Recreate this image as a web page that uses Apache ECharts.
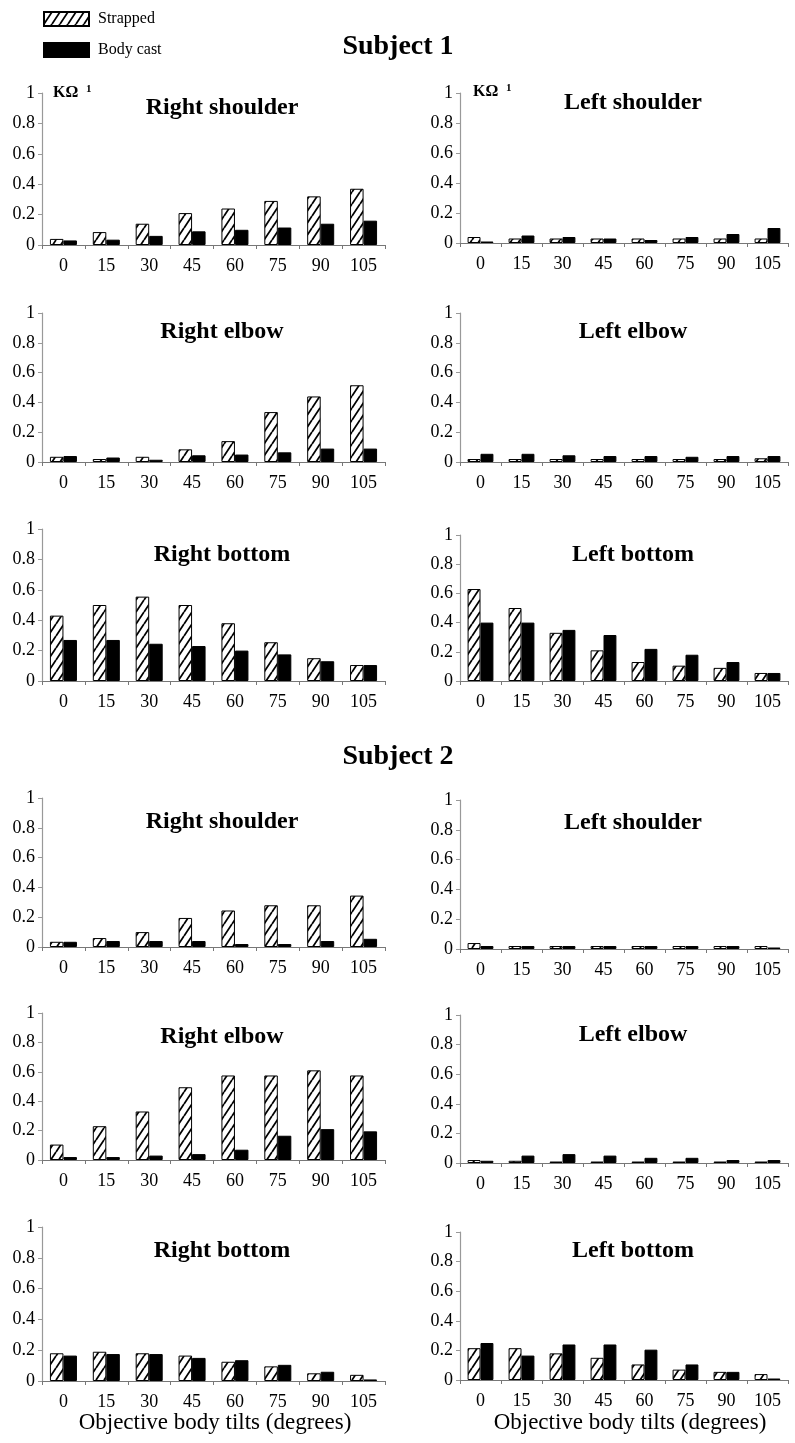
<!DOCTYPE html>
<html><head><meta charset="utf-8">
<script src="https://cdn.jsdelivr.net/npm/echarts@6/dist/echarts.min.js"></script>
<style>html,body{margin:0;padding:0;background:#fff}#c{width:795px;height:1443px}</style>
</head><body><div id="c"></div>
<script>
// ---------- data ----------
const categories = ['0', '15', '30', '45', '60', '75', '90', '105'];
const seriesNames = ['Strapped', 'Body cast'];
const yTickValues = [0, 0.2, 0.4, 0.6, 0.8, 1];

// Subject 1
const s1RightShoulderStrapped = [0.04, 0.085, 0.14, 0.21, 0.24, 0.29, 0.32, 0.37];
const s1RightShoulderCast     = [0.03, 0.035, 0.06, 0.09, 0.10, 0.115, 0.14, 0.16];
const s1LeftShoulderStrapped  = [0.04, 0.03, 0.03, 0.03, 0.03, 0.03, 0.03, 0.03];
const s1LeftShoulderCast      = [0.01, 0.05, 0.04, 0.03, 0.02, 0.04, 0.06, 0.10];
const s1RightElbowStrapped    = [0.035, 0.02, 0.035, 0.085, 0.14, 0.335, 0.44, 0.515];
const s1RightElbowCast        = [0.04, 0.03, 0.015, 0.045, 0.05, 0.065, 0.09, 0.09];
const s1LeftElbowStrapped     = [0.02, 0.02, 0.02, 0.02, 0.02, 0.02, 0.02, 0.025];
const s1LeftElbowCast         = [0.055, 0.055, 0.045, 0.04, 0.04, 0.035, 0.04, 0.04];
const s1RightBottomStrapped   = [0.43, 0.50, 0.555, 0.50, 0.38, 0.255, 0.15, 0.105];
const s1RightBottomCast       = [0.27, 0.27, 0.245, 0.23, 0.20, 0.175, 0.13, 0.105];
const s1LeftBottomStrapped    = [0.63, 0.50, 0.33, 0.21, 0.13, 0.105, 0.09, 0.055];
const s1LeftBottomCast        = [0.40, 0.40, 0.35, 0.315, 0.22, 0.18, 0.13, 0.055];
// Subject 2
const s2RightShoulderStrapped = [0.035, 0.06, 0.10, 0.195, 0.245, 0.28, 0.28, 0.345];
const s2RightShoulderCast     = [0.035, 0.04, 0.04, 0.04, 0.02, 0.02, 0.04, 0.055];
const s2LeftShoulderStrapped  = [0.04, 0.02, 0.02, 0.02, 0.02, 0.02, 0.02, 0.02];
const s2LeftShoulderCast      = [0.02, 0.02, 0.02, 0.02, 0.02, 0.02, 0.02, 0.01];
const s2RightElbowStrapped    = [0.105, 0.23, 0.33, 0.495, 0.575, 0.575, 0.61, 0.575];
const s2RightElbowCast        = [0.02, 0.02, 0.03, 0.04, 0.07, 0.165, 0.21, 0.195];
const s2LeftElbowStrapped     = [0.02, 0.015, 0.01, 0.01, 0.01, 0.01, 0.01, 0.01];
const s2LeftElbowCast         = [0.015, 0.05, 0.06, 0.05, 0.035, 0.035, 0.02, 0.02];
const s2RightBottomStrapped   = [0.18, 0.19, 0.18, 0.165, 0.125, 0.095, 0.05, 0.04];
const s2RightBottomCast       = [0.165, 0.175, 0.175, 0.15, 0.135, 0.105, 0.06, 0.01];
const s2LeftBottomStrapped    = [0.215, 0.215, 0.18, 0.15, 0.105, 0.07, 0.055, 0.04];
const s2LeftBottomCast        = [0.25, 0.165, 0.24, 0.24, 0.205, 0.105, 0.055, 0.01];

const panelTitles = ['Right shoulder', 'Left shoulder', 'Right elbow', 'Left elbow', 'Right bottom', 'Left bottom'];
const subjectTitles = ['Subject 1', 'Subject 2'];
const xAxisTitle = 'Objective body tilts (degrees)';
const unitMain = 'KΩ';
const unitSup = '1';

const panelData = [
  [s1RightShoulderStrapped, s1RightShoulderCast], [s1LeftShoulderStrapped, s1LeftShoulderCast],
  [s1RightElbowStrapped, s1RightElbowCast], [s1LeftElbowStrapped, s1LeftElbowCast],
  [s1RightBottomStrapped, s1RightBottomCast], [s1LeftBottomStrapped, s1LeftBottomCast],
  [s2RightShoulderStrapped, s2RightShoulderCast], [s2LeftShoulderStrapped, s2LeftShoulderCast],
  [s2RightElbowStrapped, s2RightElbowCast], [s2LeftElbowStrapped, s2LeftElbowCast],
  [s2RightBottomStrapped, s2RightBottomCast], [s2LeftBottomStrapped, s2LeftBottomCast]
];

// ---------- layout ----------
const cols = [{ left: 42, width: 343, titleX: 222 }, { left: 460, width: 328, titleX: 633 }];
// [top(value 1), bottom(value 0), titleCenterY] per panel
const rowsLayout = [
  [93, 245, 108], [93, 243, 103],
  [313, 462, 332], [313, 462, 332],
  [529, 681, 555], [535, 681, 555],
  [798, 947, 822], [800, 949, 823],
  [1013, 1160, 1037], [1015, 1163, 1035],
  [1227, 1381, 1251], [1232, 1380, 1251]
];

const FONT = 'Liberation Serif, Times New Roman, serif';

function hatch() {
  const w = 8, h = 12;
  const c = document.createElement('canvas');
  c.width = w; c.height = h;
  const g = c.getContext('2d');
  g.fillStyle = '#fff'; g.fillRect(0, 0, w, h);
  g.strokeStyle = '#000'; g.lineWidth = 1.8;
  g.beginPath();
  for (const o of [-w, 0, w]) { g.moveTo(o, h); g.lineTo(o + w, 0); }
  g.stroke();
  return c;
}
const hatchPattern = { image: hatch(), repeat: 'repeat' };

const grids = [], xAxes = [], yAxes = [], series = [], titles = [];
panelData.forEach((pd, i) => {
  const col = cols[i % 2];
  const [top, bottom, ty] = rowsLayout[i];
  grids.push({ left: col.left, width: col.width, top: top, height: bottom - top, outerBoundsMode: 'none' });
  xAxes.push({
    type: 'category', gridIndex: i, data: categories,
    axisLine: { lineStyle: { color: '#777', width: 1.2 } },
    axisTick: { show: true, length: 4, lineStyle: { color: '#777' } },
    axisLabel: { color: '#000', fontFamily: FONT, fontSize: 18, margin: 12, interval: 0 },
    splitLine: { show: false }
  });
  yAxes.push({
    type: 'value', gridIndex: i, min: 0, max: 1, interval: 0.2,
    axisLine: { show: true, lineStyle: { color: '#999', width: 1.2 } },
    axisTick: { show: true, length: 4, lineStyle: { color: '#999' } },
    axisLabel: { color: '#000', fontFamily: FONT, fontSize: 18, margin: 7,
      formatter: v => { const t = yTickValues.find(x => Math.abs(x - v) < 1e-6); return t === undefined ? '' : String(t); } },
    splitLine: { show: false }
  });
  series.push({
    type: 'bar', name: seriesNames[0], xAxisIndex: i, yAxisIndex: i, data: pd[0],
    barGap: '0%', barCategoryGap: '37%',
    itemStyle: { color: hatchPattern, borderColor: '#000', borderWidth: 1 }
  });
  series.push({
    type: 'bar', name: seriesNames[1], xAxisIndex: i, yAxisIndex: i, data: pd[1],
    barGap: '0%', barCategoryGap: '37%',
    itemStyle: { color: '#000', borderColor: '#000', borderWidth: 1 }
  });
  titles.push({
    text: panelTitles[i % 6], left: col.titleX, top: ty, padding: 0,
    textAlign: 'center', textVerticalAlign: 'middle',
    textStyle: { fontFamily: FONT, fontSize: 24, fontWeight: 'bold', color: '#000' }
  });
});
titles.push({ text: subjectTitles[0], left: 398, top: 47, padding: 0, textAlign: 'center', textVerticalAlign: 'middle',
  textStyle: { fontFamily: FONT, fontSize: 28, fontWeight: 'bold', color: '#000' } });
titles.push({ text: subjectTitles[1], left: 398, top: 757, padding: 0, textAlign: 'center', textVerticalAlign: 'middle',
  textStyle: { fontFamily: FONT, fontSize: 28, fontWeight: 'bold', color: '#000' } });
titles.push({ text: xAxisTitle, left: 215, top: 1423, padding: 0, textAlign: 'center', textVerticalAlign: 'middle',
  textStyle: { fontFamily: FONT, fontSize: 23, fontWeight: 'normal', color: '#000' } });
titles.push({ text: xAxisTitle, left: 630, top: 1423, padding: 0, textAlign: 'center', textVerticalAlign: 'middle',
  textStyle: { fontFamily: FONT, fontSize: 23, fontWeight: 'normal', color: '#000' } });

const unitLabels = [];
[[53, 93, 86, 89], [473, 92, 506, 88]].forEach(p => {
  unitLabels.push({ type: 'text', x: p[0], y: p[1], style: { text: unitMain, font: 'bold 16px ' + FONT, fill: '#000', textVerticalAlign: 'middle' } });
  unitLabels.push({ type: 'text', x: p[2], y: p[3], style: { text: unitSup, font: 'bold 11px ' + FONT, fill: '#000', textVerticalAlign: 'middle' } });
});

const chart = echarts.init(document.getElementById('c'), null, { renderer: 'canvas' });
chart.setOption({
  animation: false,
  backgroundColor: '#fff',
  title: titles,
  legend: {
    data: seriesNames, orient: 'vertical', left: 43, top: 11, padding: 0,
    itemWidth: 45, itemHeight: 14, itemGap: 15, icon: 'rect', selectedMode: false,
    textStyle: { fontFamily: FONT, fontSize: 16, color: '#000', padding: [0, 0, 0, 4] }
  },
  grid: grids, xAxis: xAxes, yAxis: yAxes, series: series,
  graphic: unitLabels
});
</script></body></html>
